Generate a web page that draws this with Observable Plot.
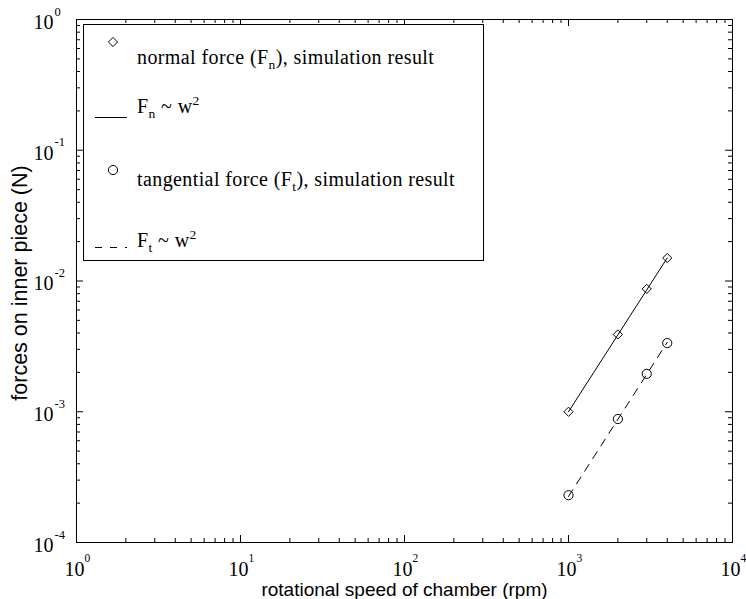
<!DOCTYPE html>
<html>
<head>
<meta charset="utf-8">
<script src="https://cdn.jsdelivr.net/npm/d3@7"></script>
<script src="https://cdn.jsdelivr.net/npm/@observablehq/plot@0.6"></script>
<style>
  html, body { margin: 0; padding: 0; background: #fff; }
  #wrap { position: relative; width: 746px; height: 599px; }
  #legend { position: absolute; left: 0; top: 0; }
</style>
</head>
<body>
<div id="wrap"></div>
<script>
// ---- data ----
const speed = [1000, 2000, 3000, 4000];                    // rpm
const normalForce = [1.0e-3, 3.9e-3, 8.7e-3, 1.5e-2];      // N
const tangentialForce = [2.3e-4, 8.8e-4, 1.95e-3, 3.35e-3]; // N
const fitSpeed = [1000, 4000];
const normalFit = [1.0e-3, 1.5e-2];
const tangentialFit = [2.25e-4, 3.4e-3];

// ---- axis ticks / labels ----
const xMajor = [1, 10, 100, 1000, 10000];
const xExp = ["0", "1", "2", "3", "4"];
const yMajor = [1, 0.1, 0.01, 0.001, 0.0001];
const yExp = ["0", "-1", "-2", "-3", "-4"];
const minorMult = [2, 3, 4, 5, 6, 7, 8, 9];
const xMinor = xMajor.slice(0, -1).flatMap(p => minorMult.map(m => m * p));
const yMinor = yMajor.slice(1).flatMap(p => minorMult.map(m => m * p));
const xLabel = "rotational speed of chamber (rpm)";
const yLabel = "forces on inner piece (N)";

const serif = "'Liberation Serif', 'Times New Roman', serif";
const sans = "'Liberation Sans', Arial, Helvetica, sans-serif";

const W = 746, H = 599, mL = 76, mR = 14, mT = 19, mB = 57;
const frameW = W - mL - mR, frameH = H - mT - mB;

// inward ticks on all four sides (MATLAB style)
function ticks(vals, axis, L) {
  const s = {stroke: "black", strokeWidth: 1};
  if (axis === "x") return [
    Plot.ruleX(vals, {x: d => d, insetTop: frameH - L, ...s}),
    Plot.ruleX(vals, {x: d => d, insetBottom: frameH - L, ...s})
  ];
  return [
    Plot.ruleY(vals, {y: d => d, insetRight: frameW - L, ...s}),
    Plot.ruleY(vals, {y: d => d, insetLeft: frameW - L, ...s})
  ];
}

const diamond = {draw(ctx) { const r = 4.6; ctx.moveTo(0, -r); ctx.lineTo(r, 0); ctx.lineTo(0, r); ctx.lineTo(-r, 0); ctx.closePath(); }};

const pts = speed.map((s, i) => ({s, fn: normalForce[i], ft: tangentialForce[i]}));
const fits = fitSpeed.map((s, i) => ({s, fn: normalFit[i], ft: tangentialFit[i]}));

const tl = {fontFamily: serif, fill: "black", lineAnchor: "middle"};

const chart = Plot.plot({
  width: W, height: H,
  marginLeft: mL, marginRight: mR, marginTop: mT, marginBottom: mB,
  x: {type: "log", domain: [1, 1e4], axis: null},
  y: {type: "log", domain: [1e-4, 1], axis: null},
  style: {background: "white", color: "black"},
  marks: [
    ...ticks(xMajor, "x", 7), ...ticks(xMinor, "x", 4),
    ...ticks(yMajor, "y", 7), ...ticks(yMinor, "y", 4),
    Plot.frame({stroke: "black", strokeWidth: 1}),
    // x tick labels (10 with superscript exponent)
    Plot.text(xMajor, {x: d => d, frameAnchor: "bottom", text: () => "10", textAnchor: "end", dx: 8, dy: 27, fontSize: 20, ...tl}),
    Plot.text(xMajor, {x: d => d, frameAnchor: "bottom", text: (d, i) => xExp[i], textAnchor: "start", dx: 8, dy: 16, fontSize: 11.5, ...tl}),
    // y tick labels
    Plot.text(yMajor, {y: d => d, frameAnchor: "left", text: () => "10", textAnchor: "end", dx: -23, dy: 3, fontSize: 20, ...tl}),
    Plot.text(yMajor, {y: d => d, frameAnchor: "left", text: (d, i) => yExp[i], textAnchor: "start", dx: -22, dy: -8, fontSize: 12.5, ...tl}),
    // axis titles
    Plot.text([xLabel], {frameAnchor: "bottom", text: d => d, textAnchor: "middle", lineAnchor: "middle", dy: 47, fontSize: 19, fontFamily: sans, fill: "black"}),
    Plot.text([yLabel], {frameAnchor: "left", text: d => d, textAnchor: "middle", lineAnchor: "middle", rotate: -90, dx: -56, dy: 2, fontSize: 21.5, fontFamily: sans, fill: "black"}),
    // power-law fits
    Plot.line(fits, {x: "s", y: "fn", stroke: "black", strokeWidth: 1}),
    Plot.line(fits, {x: "s", y: "ft", stroke: "black", strokeWidth: 1, strokeDasharray: "8,7"}),
    // simulation results
    Plot.dot(pts, {x: "s", y: "fn", symbol: diamond, stroke: "black", fill: "none", strokeWidth: 1}),
    Plot.dot(pts, {x: "s", y: "ft", r: 4.6, stroke: "black", fill: "none", strokeWidth: 1})
  ]
});

const wrap = document.getElementById("wrap");
wrap.appendChild(chart);

// ---- legend (overlay box, top-left of the axes) ----
const ns = "http://www.w3.org/2000/svg";
const leg = document.createElementNS(ns, "svg");
leg.setAttribute("id", "legend");
leg.setAttribute("width", 746);
leg.setAttribute("height", 300);
leg.innerHTML = `
  <rect x="83.5" y="24.5" width="400" height="236" fill="white" stroke="black" stroke-width="1"/>
  <path d="M113,37.4 L117.6,42 L113,46.6 L108.4,42 Z" fill="none" stroke="black"/>
  <line x1="95" x2="127" y1="117.5" y2="117.5" stroke="black"/>
  <circle cx="113" cy="170" r="4.6" fill="none" stroke="black"/>
  <line x1="95" x2="127" y1="247.5" y2="247.5" stroke="black" stroke-dasharray="7,8"/>
  <g font-family="${serif}" font-size="20" fill="black" letter-spacing="0.4">
    <text x="137" y="64">normal force (F<tspan dy="5" font-size="13.5">n</tspan><tspan dy="-5">), simulation result</tspan></text>
    <text x="137" y="113">F<tspan dy="5" font-size="13.5">n</tspan><tspan dy="-5"> ~ w</tspan><tspan dy="-8" font-size="13.5">2</tspan></text>
    <text x="137" y="186">tangential force (F<tspan dy="5" font-size="13.5">t</tspan><tspan dy="-5">), simulation result</tspan></text>
    <text x="137" y="247">F<tspan dy="5" font-size="13.5">t</tspan><tspan dy="-5"> ~ w</tspan><tspan dy="-8" font-size="13.5">2</tspan></text>
  </g>`;
wrap.appendChild(leg);
</script>
</body>
</html>
